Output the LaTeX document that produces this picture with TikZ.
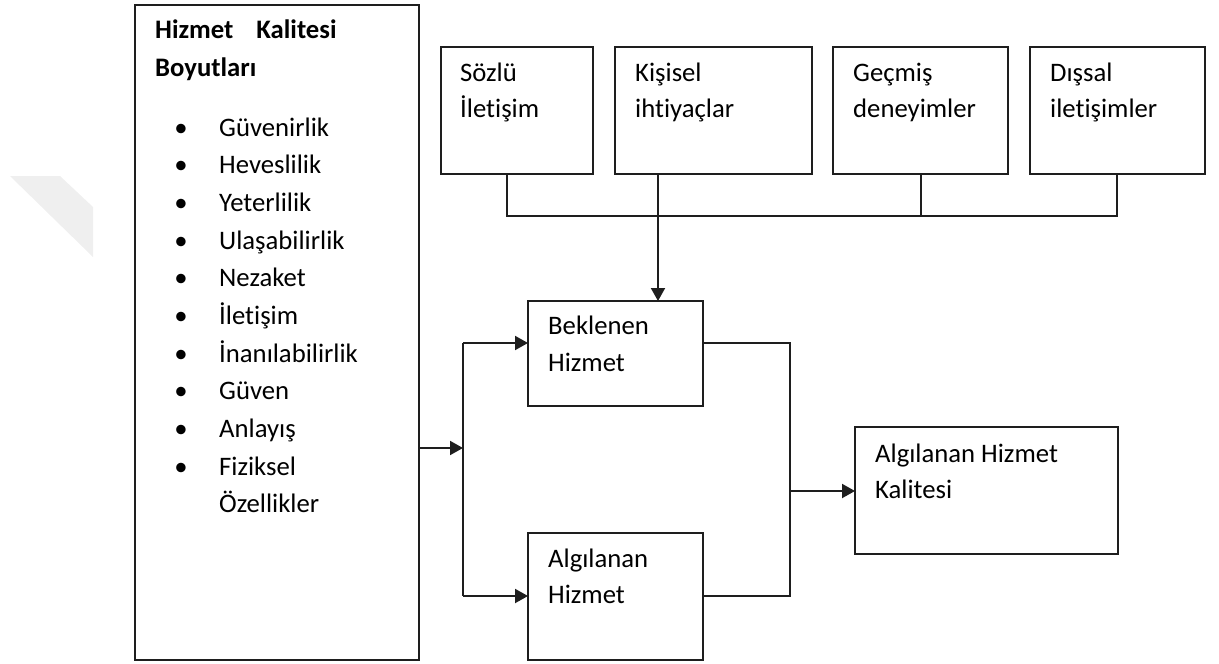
\documentclass[tikz,border=0pt]{standalone}
\usepackage{fontspec}
\setmainfont{Carlito}[Ligatures=NoCommon]
\usetikzlibrary{arrows.meta}
\definecolor{wm}{HTML}{EFEFEF}
\definecolor{ln}{HTML}{1E1E1E}
\tikzset{
  box/.style={draw=ln, line width=2pt, rectangle, inner sep=0pt, outer sep=0pt, anchor=north west},
  txt/.style={inner sep=0pt, anchor=base west, font=\fontsize{26.7}{32}\selectfont},
  btxt/.style={txt, font=\fontsize{26.7}{32}\selectfont\bfseries},
  bul/.style={inner sep=0pt, anchor=base, font=\fontsize{26.7}{32}\selectfont},
  conn/.style={draw=ln, line width=2pt},
  arr/.style={conn, -{Triangle[length=13pt,width=14pt]}}
}
\begin{document}
\begin{tikzpicture}[x=1pt,y=-1pt]
\useasboundingbox (0,0) rectangle (1219,664);
% faint watermark
\fill[wm] (10,176) -- (60,176) -- (93,207) -- (93,257) -- cycle;

% boxes
\node[box, minimum width=284pt, minimum height=655pt] (dims) at (135,5) {};
\node[box, minimum width=152pt, minimum height=127pt] (sozlu) at (441,47) {};
\node[box, minimum width=197pt, minimum height=127pt] (kisisel) at (615,47) {};
\node[box, minimum width=175pt, minimum height=127pt] (gecmis) at (833,47) {};
\node[box, minimum width=175pt, minimum height=127pt] (dissal) at (1030,47) {};
\node[box, minimum width=175pt, minimum height=105pt] (beklenen) at (528,301) {};
\node[box, minimum width=175pt, minimum height=127pt] (algilanan) at (528,533) {};
\node[box, minimum width=263pt, minimum height=127pt] (ahk) at (855,427) {};

% left box texts
\node[btxt] (t1) at (155,38) {Hizmet\hspace{23pt}Kalitesi};
\node[btxt] (t2) at (155,76) {Boyutları};
\foreach \i/\w in {0/Güvenirlik,1/Heveslilik,2/Yeterlilik,3/Ulaşabilirlik,4/Nezaket,5/İletişim,6/İnanılabilirlik,7/Güven,8/Anlayış,9/Fiziksel}{
  \node[bul] (b\i) at (181,136+37.67*\i) {•};
  \node[txt] (i\i) at (219,136+37.67*\i) {\w};
}
\node[txt] (i10) at (219,512) {Özellikler};

% top box texts
\node[txt] (s1) at (460,81) {Sözlü};
\node[txt] (s2) at (460,117) {İletişim};
\node[txt] (k1) at (635,81) {Kişisel};
\node[txt] (k2) at (635,117) {ihtiyaçlar};
\node[txt] (g1) at (853,81) {Geçmiş};
\node[txt] (g2) at (853,117) {deneyimler};
\node[txt] (d1) at (1050,81) {Dışsal};
\node[txt] (d2) at (1050,117) {iletişimler};

% middle texts
\node[txt] (bk1) at (548,334) {Beklenen};
\node[txt] (bk2) at (548,371) {Hizmet};
\node[txt] (al1) at (548,567) {Algılanan};
\node[txt] (al2) at (548,603) {Hizmet};
\node[txt] (q1) at (875,462) {Algılanan Hizmet};
\node[txt] (q2) at (875,498) {Kalitesi};

% junction coordinates
\coordinate (jS) at (507,216);
\coordinate (jG) at (921,216);
\coordinate (jK) at (658,216);
\coordinate (jD) at (1117,216);
\coordinate (split) at (463,448);
\coordinate (sTop) at (463,343);
\coordinate (sBot) at (463,596);
\coordinate (mTop) at (790,343);
\coordinate (mBot) at (790,596);
\coordinate (mMid) at (790,491);

% top bus
\draw[conn] (sozlu.south -| jS) -- (jS) -- (jD) -- (dissal.south -| jD);
\draw[conn] (gecmis.south -| jG) -- (jG);
\draw[arr] (kisisel.south -| jK) -- (beklenen.north -| jK);

% left split
\draw[arr] (dims.east |- split) -- (split);
\draw[conn] (sTop) -- (sBot);
\draw[arr] (sTop) -- (sTop -| beklenen.west);
\draw[arr] (sBot) -- (sBot -| algilanan.west);

% right merge
\draw[conn] (beklenen.east |- mTop) -- (mTop) -- (mBot) -- (algilanan.east |- mBot);
\draw[arr] (mMid) -- (mMid -| ahk.west);
\end{tikzpicture}
\end{document}
